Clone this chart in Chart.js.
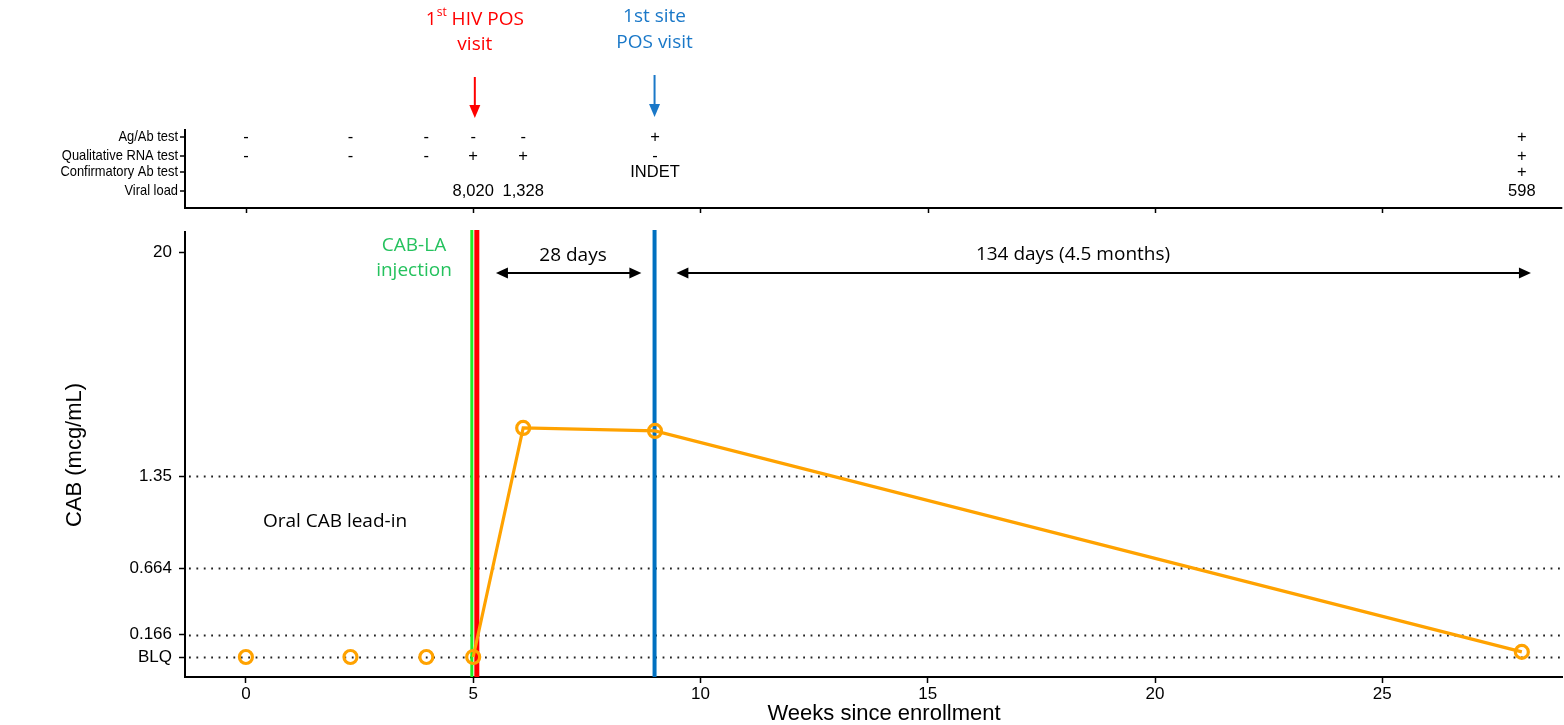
<!DOCTYPE html>
<html>
<head>
<meta charset="utf-8">
<script src="https://cdn.jsdelivr.net/npm/chart.js@4.4.0/dist/chart.umd.min.js"></script>
<style>
  html, body { margin: 0; background: #fff; overflow: hidden; }
  /* a few px wider than the window: Chart.js keeps ~10px on the right */
  #wrap { width: 1572px; height: 725px; position: relative; }
</style>
</head>
<body>
<div id="wrap"><canvas id="cabChart"></canvas></div>
<script>
// ---- data ----
var visitWeeks = [0, 2.3, 3.97, 5, 6.1, 9, 28.07];
// CAB concentration, mcg/mL ; 0.025 stands for BLQ
var cabConc = [0.025, 0.025, 0.025, 0.025, 5.35, 5.1, 0.057];

var yTickValues = [0.025, 0.166, 0.664, 1.35, 20];
var yTickLabels = ['BLQ', '0.166', '0.664', '1.35', '20'];
var xTickValues = [0, 5, 10, 15, 20, 25];

var rowLabels = ['Ag/Ab test', 'Qualitative RNA test', 'Confirmatory Ab test', 'Viral load'];
var agAbResults = ['-', '-', '-', '-', '-', '+', '+'];
var rnaResults = ['-', '-', '-', '+', '+', '-', '+'];
var confirmResults = ['', '', '', '', '', 'INDET', '+'];
var viralLoads = ['', '', '', '8,020', '1,328', '', '598'];

var injectionWeek = 4.97;
var hivPosWeek = 5.08;
var sitePosWeek = 8.99;

// ---- non-linear y axis: piecewise mapping of the tick values onto the axis ----
var anchorPos = [20, 42.5, 109, 201, 425];
function toAxis(c) {
  for (var i = 0; i < yTickValues.length - 1; i++) {
    if (c <= yTickValues[i + 1]) {
      var f = (c - yTickValues[i]) / (yTickValues[i + 1] - yTickValues[i]);
      return anchorPos[i] + f * (anchorPos[i + 1] - anchorPos[i]);
    }
  }
  return anchorPos[anchorPos.length - 1];
}

var points = visitWeeks.map(function (w, i) { return { x: w, y: toAxis(cabConc[i]) }; });

var ORANGE = '#ffa200';
var SANS = '"Liberation Sans", Arial, sans-serif';
var NOTE = '"Open Sans", sans-serif';

function arrowHead(ctx, x, y, dir) {
  ctx.beginPath();
  ctx.moveTo(x, y);
  ctx.lineTo(x - dir * 12, y - 5.5);
  ctx.lineTo(x - dir * 12, y + 5.5);
  ctx.closePath();
  ctx.fill();
}
function hArrow(ctx, x1, x2, y) {
  ctx.save();
  ctx.strokeStyle = '#000'; ctx.fillStyle = '#000'; ctx.lineWidth = 2;
  ctx.beginPath(); ctx.moveTo(x1 + 8, y); ctx.lineTo(x2 - 8, y); ctx.stroke();
  arrowHead(ctx, x1, y, -1);
  arrowHead(ctx, x2, y, 1);
  ctx.restore();
}
function downArrow(ctx, x, y1, y2, color) {
  ctx.save();
  ctx.strokeStyle = color; ctx.fillStyle = color; ctx.lineWidth = 2;
  ctx.beginPath(); ctx.moveTo(x, y1); ctx.lineTo(x, y2 - 8); ctx.stroke();
  ctx.beginPath(); ctx.moveTo(x, y2); ctx.lineTo(x - 5.5, y2 - 13); ctx.lineTo(x + 5.5, y2 - 13); ctx.closePath(); ctx.fill();
  ctx.restore();
}

var extras = {
  id: 'extras',
  beforeDatasetsDraw: function (chart) {
    var ctx = chart.ctx, xs = chart.scales.x, ys = chart.scales.y, a = chart.chartArea;
    ctx.save();
    // dotted reference lines
    ctx.strokeStyle = '#222'; ctx.lineWidth = 1.8; ctx.setLineDash([1.8, 5.6]);
    yTickValues.forEach(function (v, i) {
      if (i === yTickValues.length - 1) return;
      var y = Math.round(ys.getPixelForValue(anchorPos[i])) + 0.5;
      ctx.beginPath(); ctx.moveTo(a.left + 4, y); ctx.lineTo(a.right, y); ctx.stroke();
    });
    ctx.setLineDash([]);
    // event lines
    function vline(w, color, width) {
      var x = xs.getPixelForValue(w);
      ctx.strokeStyle = color; ctx.lineWidth = width;
      ctx.beginPath(); ctx.moveTo(x, a.top - 2); ctx.lineTo(x, a.bottom); ctx.stroke();
    }
    vline(injectionWeek, '#22ee22', 3);
    vline(hivPosWeek, '#ff0000', 5);
    vline(sitePosWeek, '#0070c0', 4);
    ctx.restore();
  },
  afterDraw: function (chart) {
    var ctx = chart.ctx, xs = chart.scales.x, a = chart.chartArea;
    ctx.save();
    ctx.textBaseline = 'middle';

    // ---- top panel ----
    var rowY = [137, 156, 172, 191];
    var axisY = 208;
    ctx.strokeStyle = '#000'; ctx.lineWidth = 2;
    ctx.beginPath(); ctx.moveTo(a.left, 129); ctx.lineTo(a.left, axisY); ctx.lineTo(a.right, axisY); ctx.stroke();
    ctx.lineWidth = 1.5;
    rowY.forEach(function (y) {
      ctx.beginPath(); ctx.moveTo(a.left - 5, y); ctx.lineTo(a.left, y); ctx.stroke();
    });
    xTickValues.forEach(function (v) {
      var x = Math.round(xs.getPixelForValue(v)) + 0.5;
      ctx.beginPath(); ctx.moveTo(x, axisY); ctx.lineTo(x, axisY + 5); ctx.stroke();
    });
    ctx.fillStyle = '#000';
    // row labels: condensed Arial-like
    ctx.font = '15px ' + SANS;
    ctx.textAlign = 'right';
    rowLabels.forEach(function (t, i) {
      ctx.save();
      ctx.translate(a.left - 7, rowY[i]);
      ctx.scale(0.86, 1);
      ctx.fillText(t, 0, 0);
      ctx.restore();
    });
    ctx.textAlign = 'center';
    ctx.font = '16.5px ' + SANS;
    [agAbResults, rnaResults, confirmResults, viralLoads].forEach(function (row, r) {
      row.forEach(function (t, i) {
        if (t) ctx.fillText(t, xs.getPixelForValue(visitWeeks[i]), rowY[r]);
      });
    });

    // ---- event labels ----
    var xr = xs.getPixelForValue(hivPosWeek) - 2;
    ctx.fillStyle = '#ff0000';
    ctx.font = '19px ' + NOTE;
    var w1 = ctx.measureText('1').width;
    ctx.font = '12px ' + NOTE;
    var wst = ctx.measureText('st').width;
    ctx.font = '19px ' + NOTE;
    var wrest = ctx.measureText(' HIV POS').width;
    var sx = xr - (w1 + wst + wrest) / 2;
    ctx.textAlign = 'left';
    ctx.fillText('1', sx, 20);
    ctx.font = '12px ' + NOTE;
    ctx.fillText('st', sx + w1, 13);
    ctx.font = '19px ' + NOTE;
    ctx.fillText(' HIV POS', sx + w1 + wst, 20);
    ctx.textAlign = 'center';
    ctx.fillText('visit', xr, 45);
    downArrow(ctx, xr, 77, 118, '#ff0000');

    var xb = xs.getPixelForValue(sitePosWeek);
    ctx.fillStyle = '#1a78c8';
    ctx.fillText('1st site', xb, 17);
    ctx.fillText('POS visit', xb, 43);
    downArrow(ctx, xb, 75, 117, '#1a78c8');

    ctx.fillStyle = '#25c25e';
    ctx.fillText('CAB-LA', 414, 246);
    ctx.fillText('injection', 414, 271);

    ctx.fillStyle = '#000';
    ctx.fillText('Oral CAB lead-in', 335, 522);

    // spans
    ctx.fillText('28 days', 573, 256);
    hArrow(ctx, xs.getPixelForValue(5.5), xs.getPixelForValue(8.7), 273);
    ctx.fillText('134 days (4.5 months)', 1073, 255);
    hArrow(ctx, xs.getPixelForValue(9.47), xs.getPixelForValue(28.27), 273);

    // axis titles
    ctx.font = '22px ' + SANS;
    ctx.fillText('Weeks since enrollment', 884, 714);
    ctx.translate(75, 455);
    ctx.rotate(-Math.PI / 2);
    ctx.fillText('CAB (mcg/mL)', 0, 0);
    ctx.restore();
  }
};

new Chart(document.getElementById('cabChart'), {
  type: 'line',
  data: {
    datasets: [{
      data: points,
      borderColor: ORANGE,
      borderWidth: 3.2,
      backgroundColor: 'transparent',
      pointRadius: 6.5,
      pointBorderWidth: 3.2,
      pointBorderColor: ORANGE,
      pointBackgroundColor: 'transparent',
      tension: 0,
      segment: {
        borderColor: function (c) { return c.p0DataIndex < 3 ? 'transparent' : ORANGE; }
      }
    }]
  },
  options: {
    responsive: true,
    maintainAspectRatio: false,
    animation: false,
    layout: { padding: { top: 232, right: 2, left: 0, bottom: 0 } },
    plugins: { legend: { display: false }, tooltip: { enabled: false } },
    scales: {
      x: {
        type: 'linear',
        min: -1.34,
        max: 28.96,
        afterFit: function (s) { s.height = 48; s.paddingLeft = 0; s.paddingRight = 0; },
        afterBuildTicks: function (s) { s.ticks = xTickValues.map(function (v) { return { value: v }; }); },
        grid: { drawOnChartArea: false, tickLength: 6, tickColor: '#000', tickWidth: 1.5 },
        border: { color: '#000', width: 2 },
        ticks: { color: '#000', font: { family: SANS, size: 17 }, padding: 1 }
      },
      y: {
        type: 'linear',
        min: 0,
        max: 445,
        afterFit: function (s) { s.width = 185; s.paddingTop = 0; s.paddingBottom = 0; },
        afterBuildTicks: function (s) { s.ticks = anchorPos.map(function (v) { return { value: v }; }); },
        grid: { drawOnChartArea: false, tickLength: 6, tickColor: '#000', tickWidth: 1.5 },
        border: { color: '#000', width: 2 },
        ticks: {
          color: '#000', font: { family: SANS, size: 17 }, padding: 7,
          callback: function (v, i) { return yTickLabels[i]; }
        }
      }
    }
  },
  plugins: [extras]
});
</script>
</body>
</html>
